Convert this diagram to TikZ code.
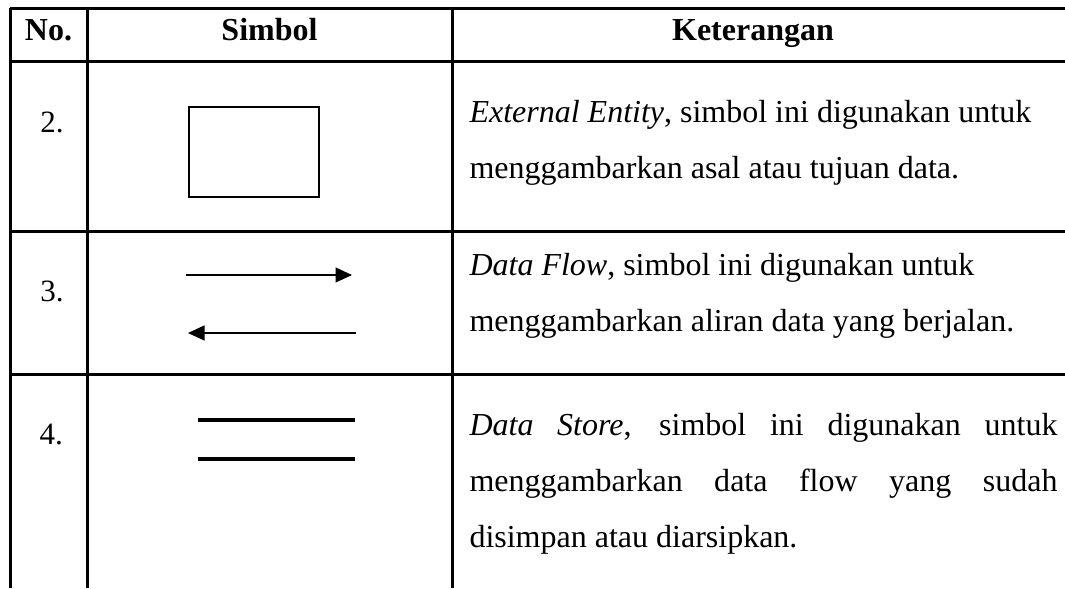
\documentclass[tikz,border=0pt]{standalone}
\usepackage{fontspec}
\setmainfont{Liberation Serif}
\usepackage{tikz}
\usetikzlibrary{arrows.meta,positioning}

\tikzset{
  grid/.style={line width=1.2pt},
  headtext/.style={anchor=base, inner sep=0pt, font=\fontsize{12.8}{15}\selectfont\bfseries},
  numtext/.style={anchor=base west, inner sep=0pt, font=\fontsize{12.4}{15}\selectfont},
  celltext/.style={anchor=base west, inner sep=0pt, font=\fontsize{12.8}{15}\selectfont},
  entity/.style={draw, line width=0.8pt, minimum width=52pt, minimum height=36pt, inner sep=0pt},
  flow/.style={line width=0.45pt, -{Triangle[length=6.6pt,width=6pt]}},
  store/.style={line width=1.3pt},
}

\begin{document}
\begin{tikzpicture}[x=0.4pt,y=-0.4pt]
\useasboundingbox (0,0) rectangle (1065,588);
% grid
\draw[grid] (10,8) -- (1065,8); % top line
\draw[grid] (10,61) -- (1065,61); % header bottom
\draw[grid] (10,231) -- (1065,231); % row 2 bottom
\draw[grid] (10,374) -- (1065,374); % row 3 bottom
\draw[grid] (10,8) -- (10,588); % left line
\draw[grid] (87,8) -- (87,588); % no. column
\draw[grid] (452,8) -- (452,588); % simbol column
% header
\node[headtext] (hno) at (48.5,40) {No.};
\node[headtext] (hsimbol) at (269.5,40) {Simbol};
\node[headtext] (hket) at (753,40) {Keterangan};
% row 2
\node[numtext] (no2) at (40,132) {2.};
\node[entity] (entity) at (254,152) {};
\node[celltext] (ket2a) at (469,122) {\textit{External Entity}, simbol ini digunakan untuk};
\node[celltext] (ket2b) at (469,178) {menggambarkan asal atau tujuan data.};
% row 3
\node[numtext] (no3) at (40,301) {3.};
\coordinate (flowA) at (186,275);
\coordinate (flowB) at (352,275);
\coordinate (backA) at (356,333);
\coordinate (backB) at (188,333);
\draw[flow] (flowA) -- (flowB);
\draw[flow] (backA) -- (backB);
\node[celltext] (ket3a) at (469,275) {\textit{Data Flow}, simbol ini digunakan untuk};
\node[celltext] (ket3b) at (469,331) {menggambarkan aliran data yang berjalan.};
% row 4
\node[numtext] (no4) at (39,444) {4.};
\coordinate (storeA) at (198,420);
\coordinate (storeB) at (355,420);
\coordinate (storeC) at (198,459);
\coordinate (storeD) at (355,459);
\draw[store] (storeA) -- (storeB);
\draw[store] (storeC) -- (storeD);
\node[celltext] (ket4a) at (469,435) {\makebox[235.2pt][s]{\textit{Data Store}, simbol ini digunakan untuk}};
\node[celltext] (ket4b) at (469,491) {\makebox[235.2pt][s]{menggambarkan data flow yang sudah}};
\node[celltext] (ket4c) at (469,547) {disimpan atau diarsipkan.};
\end{tikzpicture}
\end{document}
